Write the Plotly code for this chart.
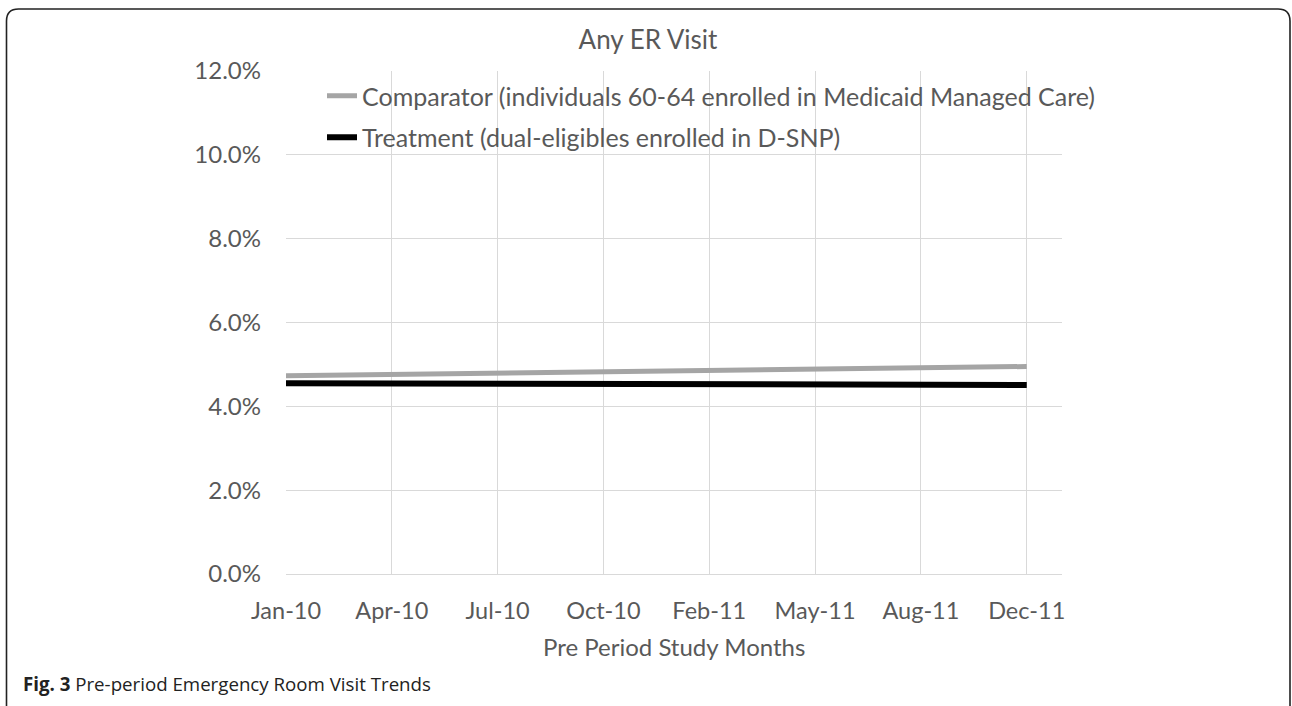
import plotly.graph_objects as go

months = ["Jan-10", "Apr-10", "Jul-10", "Oct-10", "Feb-11", "May-11", "Aug-11", "Dec-11"]
comparator = [4.73, 4.76, 4.79, 4.82, 4.86, 4.89, 4.92, 4.95]
treatment = [4.55, 4.54, 4.54, 4.53, 4.53, 4.52, 4.52, 4.51]

comp_name = "Comparator (individuals 60-64 enrolled in Medicaid Managed Care)"
treat_name = "Treatment (dual-eligibles enrolled in D-SNP)"

FONT = "Lato"
GRAY = "#595959"

W, H = 1292, 706
L, R, T, B = 286, 1062, 71, 574


def px(x):
    return (x - L) / (R - L)


def py(y):
    return (B - y) / (B - T)


fig = go.Figure()
fig.add_trace(go.Scatter(x=months, y=comparator, mode="lines", name=comp_name,
                         line=dict(color="#a5a5a5", width=5), legendgroup="a"))
fig.add_trace(go.Scatter(x=months, y=treatment, mode="lines", name=treat_name,
                         line=dict(color="#000000", width=6), legendgroup="b"))

# rounded frame
x0, x1, y0, y1, r = 6.5, 1290, 9, 720, 12
path = (f"M {px(x0)},{py(y1)} L {px(x0)},{py(y0 + r)} Q {px(x0)},{py(y0)} {px(x0 + r)},{py(y0)} "
        f"L {px(x1 - r)},{py(y0)} Q {px(x1)},{py(y0)} {px(x1)},{py(y0 + r)} L {px(x1)},{py(y1)}")
fig.add_shape(type="path", path=path, xref="paper", yref="paper",
              line=dict(color="#222222", width=1.6))

fig.add_annotation(text="Pre Period Study Months", xref="paper", yref="paper",
                   x=0.5, y=py(646), showarrow=False, xanchor="center", yanchor="middle",
                   font=dict(family=FONT, size=24, color=GRAY))
fig.add_annotation(text="<b>Fig. 3</b> Pre-period Emergency Room Visit Trends", xref="paper", yref="paper",
                   x=px(21), y=py(683), showarrow=False, xanchor="left", yanchor="middle",
                   font=dict(family="Open Sans", size=18.7, color="#222222"))

fig.update_layout(
    width=W, height=H,
    margin=dict(l=L, r=W - R, t=T, b=H - B),
    paper_bgcolor="white", plot_bgcolor="white",
    title=dict(text="Any ER Visit", x=648 / W, xref="container", xanchor="center",
               y=1 - 40 / H, yanchor="middle", font=dict(family=FONT, size=26, color=GRAY)),
    font=dict(family=FONT, size=23, color=GRAY),
    showlegend=True,
    legend=dict(x=px(322), y=py(73), xanchor="left", yanchor="top", bgcolor="rgba(0,0,0,0)",
                tracegroupgap=6, font=dict(family=FONT, size=25, color=GRAY)),
    xaxis=dict(type="category", range=[0, 7 + 1 / 3], showgrid=True, gridcolor="#d9d9d9",
               gridwidth=1, showline=True, linecolor="#d9d9d9", linewidth=1, ticks="",
               ticklabelstandoff=16, tickfont=dict(family=FONT, size=23.5, color=GRAY)),
    yaxis=dict(range=[0, 12], dtick=2, tickformat=".1f", ticksuffix="%", showgrid=True,
               gridcolor="#d9d9d9", gridwidth=1, zeroline=False, showline=False, ticks="",
               ticklabelstandoff=24, tickfont=dict(family=FONT, size=24, color=GRAY)),
)

fig.write_html("out.html", config={"displayModeBar": False},
               post_script="document.body.style.margin='0';")
